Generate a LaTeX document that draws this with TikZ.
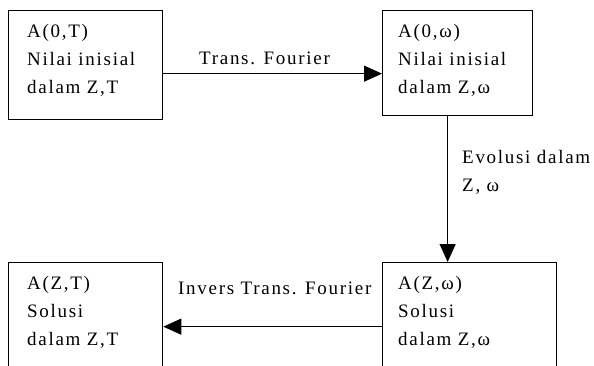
\documentclass[tikz,border=0pt]{standalone}
\usepackage{fontspec}
\setmainfont{Liberation Serif}[LetterSpace=9]
\usetikzlibrary{arrows.meta}
\begin{document}
\begin{tikzpicture}[x=1pt,y=-1pt,
  box/.style={draw, line width=1.3pt, inner sep=0pt, anchor=north west},
  txt/.style={anchor=north west, align=left, inner sep=0pt, font=\fontsize{19}{28}\selectfont},
  lbl/.style={inner sep=0pt, font=\fontsize{19}{28}\selectfont},
  arr/.style={line width=1.2pt, -{Triangle[length=18pt,width=16pt]}}]
\useasboundingbox (0,0) rectangle (594,365);
\node[box, minimum width=154pt, minimum height=109pt] (b1) at (8,10) {};
\node[box, minimum width=150pt, minimum height=105pt] (b2) at (382,10) {};
\node[box, minimum width=154pt, minimum height=115pt] (b3) at (8,262) {};
\node[box, minimum width=174pt, minimum height=115pt] (b4) at (382,262) {};
\node[txt] (t1) at (27,24) {A(0,T)\\Nilai inisial\\dalam Z,T};
\node[txt] (t2) at (398,24) {A(0,ω)\\Nilai inisial\\dalam Z,ω};
\node[txt] (t3) at (27,276) {A(Z,T)\\Solusi\\dalam Z,T};
\node[txt] (t4) at (398,276) {A(Z,ω)\\Solusi\\dalam Z,ω};
\draw[arr] ([yshift=-8.5pt]b1.east) -- ([yshift=-8.5pt]b1.east -| b2.west);
\draw[arr] ([xshift=-10pt]b2.south) -- ([xshift=-10pt]b2.south |- b4.north);
\draw[arr] ([yshift=-6.5pt]b4.west) -- ([yshift=-6.5pt]b4.west -| b3.east);
\node[lbl, anchor=west] (l1) at (199,58) {Trans. Fourier};
\node[txt] (l2) at (462,150) {Evolusi dalam\\Z, ω};
\node[lbl, anchor=west] (l3) at (178,288) {Invers Trans. Fourier};
\end{tikzpicture}
\end{document}
